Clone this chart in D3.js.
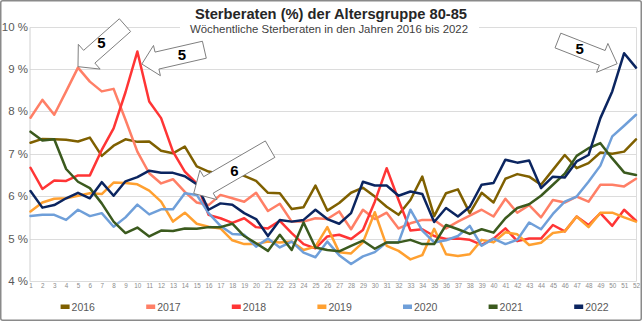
<!DOCTYPE html>
<html><head><meta charset="utf-8">
<script src="https://cdn.jsdelivr.net/npm/d3@7"></script>
<style>html,body{margin:0;padding:0;background:#fff}svg{display:block}</style>
</head><body>
<svg id="c" width="642" height="321"></svg>
<script>
const weeks = d3.range(1, 53);
const years = ["2016","2017","2018","2019","2020","2021","2022"];
const colors = ["#7f6000","#ff7f66","#ff3535","#ffa030","#6f9fd9","#3b5a1e","#0b2560"];
const yTicks = [4,5,6,7,8,9,10];

const y2016 = [7.26,7.35,7.34,7.33,7.29,7.38,6.95,7.19,7.34,7.28,7.29,7.07,7.01,7.17,6.70,6.58,6.52,6.54,6.48,6.36,6.08,6.07,5.70,5.74,6.25,5.66,5.84,6.08,6.20,5.99,5.75,5.56,5.91,6.46,5.53,6.07,6.16,5.60,6.08,5.85,6.41,6.52,6.46,6.27,6.62,6.97,6.66,6.78,7.03,7.00,7.05,7.34];
const y2017 = [7.85,8.27,7.92,8.47,9.03,8.70,8.47,8.53,7.80,7.05,6.54,6.30,6.40,6.10,5.85,5.79,6.03,5.95,5.87,6.08,5.65,5.82,5.40,5.40,5.48,5.46,5.64,5.22,5.68,5.46,5.61,5.24,5.36,5.44,5.44,5.24,5.40,5.54,5.68,5.52,5.94,5.61,5.79,5.50,5.91,5.85,5.99,5.87,6.27,6.27,6.23,6.41];
const y2018 = [6.67,6.17,6.37,6.36,6.49,6.49,7.09,7.60,8.45,9.41,8.23,7.84,7.05,6.58,6.30,5.56,5.48,5.37,5.48,5.27,5.24,5.42,5.13,4.87,4.77,5.05,5.09,4.99,5.20,5.87,6.66,5.91,5.19,5.22,5.06,4.99,5.00,4.97,4.85,5.00,5.24,4.94,5.00,5.00,5.32,5.17,5.52,5.32,5.60,5.30,5.68,5.42];
const y2019 = [5.64,5.85,5.94,5.95,6.01,6.07,6.05,6.32,6.31,6.28,6.13,5.87,5.40,5.61,5.35,5.28,5.24,4.96,4.87,4.87,4.93,4.91,4.93,4.73,4.81,5.27,4.68,4.65,4.91,5.62,4.83,4.71,4.51,4.61,5.23,4.63,4.59,4.63,4.97,4.91,5.15,5.10,4.85,4.90,5.13,5.17,5.52,5.27,5.61,5.61,5.50,5.40];
const y2020 = [5.53,5.56,5.56,5.44,5.68,5.53,5.60,5.28,5.50,5.80,5.57,5.69,5.69,6.07,6.03,5.60,5.30,5.11,5.09,4.81,5.00,4.79,4.93,4.67,4.56,4.93,4.61,4.40,4.58,4.68,4.91,4.91,5.68,5.19,4.91,4.96,5.06,5.30,4.83,5.00,4.87,4.97,5.38,5.22,5.58,5.87,5.99,6.34,6.72,7.41,7.66,7.92];
const y2021 = [7.52,7.31,7.34,6.64,6.34,6.19,5.83,5.40,5.13,5.26,5.05,5.19,5.18,5.24,5.23,5.27,5.27,5.35,5.06,4.89,4.71,5.09,4.73,5.38,4.79,4.73,4.70,4.83,4.95,4.76,4.91,4.91,4.97,4.87,4.87,5.32,5.22,5.11,5.22,5.14,5.48,5.72,5.81,6.01,6.27,6.53,6.95,7.13,7.25,6.89,6.56,6.50];
const y2022 = [6.12,5.73,5.79,5.95,6.08,5.95,6.33,6.01,6.35,6.45,6.60,6.55,6.55,6.47,6.28,5.68,5.83,5.80,5.60,5.46,5.06,5.44,5.40,5.44,5.68,5.46,5.35,5.60,6.34,6.25,6.25,6.01,6.11,6.05,5.39,5.72,5.52,5.75,6.27,6.31,6.86,6.79,6.84,6.19,6.46,6.44,6.82,6.97,7.84,8.47,9.37,9.03];
const seriesValues = [y2016,y2017,y2018,y2019,y2020,y2021,y2022];

// annotation arrows: anchored on a data point (series index, week)
const annLabels = ["5","5","6","5"];
const annSeries = [1,2,2,6];
const annWeeks = [5,10,15,51];

const title = "Sterberaten (%) der Altersgruppe 80-85";
const subtitle = "Wöchentliche Sterberaten in den Jahren 2016 bis 2022";

const FONT = "'Liberation Sans', Arial, sans-serif";
const svg = d3.select("#c");
const W = 642, H = 321;
const m = {l:30.5, r:636, t:26.5, b:281};

const x = d3.scaleLinear().domain([1,52]).range([m.l, m.r]);
const y = d3.scaleLinear().domain([4,10]).range([m.b, m.t]);

// frame
svg.append("rect").attr("x",0.75).attr("y",0.75).attr("width",W-1.5).attr("height",H-1.5)
  .attr("rx",2).attr("fill","#fff").attr("stroke","#8a8a8a").attr("stroke-width",1.5);

// gridlines
svg.append("g").selectAll("line").data(yTicks).join("line")
  .attr("x1",m.l-0.5).attr("x2",m.r+0.5).attr("y1",d=>Math.round(y(d))+0.5).attr("y2",d=>Math.round(y(d))+0.5)
  .attr("stroke","#dcdcdc").attr("stroke-width",1);
svg.append("line").attr("x1",m.l-0.5).attr("x2",m.l-0.5).attr("y1",Math.round(y(10))+0.5).attr("y2",Math.round(y(4))+0.5).attr("stroke","#d0d0d0");
svg.append("line").attr("x1",m.r+0.5).attr("x2",m.r+0.5).attr("y1",Math.round(y(10))+0.5).attr("y2",Math.round(y(4))+0.5).attr("stroke","#dcdcdc");

// y axis labels
svg.append("g").selectAll("text").data(yTicks).join("text")
  .attr("x",28).attr("y",d=>y(d)).attr("dy","0.35em").attr("text-anchor","end")
  .attr("font-family",FONT).attr("font-size",11.5).attr("fill","#595959")
  .text(d=>d+" %");

// x axis tick labels
const xAxis = d3.axisBottom(x).tickValues(weeks).tickSize(0).tickPadding(3).tickFormat(d3.format("d"));
const gx = svg.append("g").attr("transform",`translate(0,${m.b})`).call(xAxis);
gx.select(".domain").remove();
gx.selectAll("text").attr("font-family",FONT).attr("font-size",6.3).attr("fill","#8c8c8c");

// lines
const line = d3.line().x((d,i)=>x(weeks[i])).y(d=>y(d)).curve(d3.curveLinear);
svg.append("g").selectAll("path").data(seriesValues).join("path")
  .attr("d",d=>line(d)).attr("fill","none")
  .attr("stroke",(d,i)=>colors[i]).attr("stroke-width",2.5)
  .attr("stroke-linejoin","round").attr("stroke-linecap","round");

// titles
svg.append("rect").attr("x",180).attr("y",20).attr("width",299).attr("height",17).attr("fill","#fff");
svg.append("text").attr("x",331).attr("y",18.5).attr("text-anchor","middle")
  .attr("font-family",FONT).attr("font-size",14.7).attr("font-weight","bold").attr("fill","#262626").text(title);
svg.append("text").attr("x",329).attr("y",33).attr("text-anchor","middle")
  .attr("font-family",FONT).attr("font-size",11.4).attr("fill","#404040").text(subtitle);

// arrows
const annTip = [[0,-1],[4.5,12.5],[-3,10],[-7,10.5]];
const annTail = [[47,-41.5],[62.5,-14.3],[76.4,-44.3],[-59.2,-23.2]];
const annDims = [[8.5,16.5,15],[8.7,15.5,15.5],[9.5,17,17],[7.9,15.5,16]];
const annText = [[23.5,-24],[40,-9.3],[40.7,-23.3],[-37.4,-14.7]];
const ga = svg.append("g");
annLabels.forEach((lab,k)=>{
  const px = x(annWeeks[k]) + annTip[k][0];
  const py = y(seriesValues[annSeries[k]][annWeeks[k]-1]) + annTip[k][1];
  const cx = px + annTail[k][0], cy = py + annTail[k][1];
  const L = Math.hypot(cx-px, cy-py);
  const ux = (cx-px)/L, uy = (cy-py)/L;
  const nx = -uy, ny = ux;
  const [sw,hw,hl] = annDims[k];
  const hx = px + ux*hl, hy = py + uy*hl;
  const pts = [
    [px,py],
    [hx+nx*hw, hy+ny*hw],
    [hx+nx*sw, hy+ny*sw],
    [cx+nx*sw, cy+ny*sw],
    [cx-nx*sw, cy-ny*sw],
    [hx-nx*sw, hy-ny*sw],
    [hx-nx*hw, hy-ny*hw]
  ];
  ga.append("polygon").attr("points",pts.map(p=>p.join(",")).join(" "))
    .attr("fill","#fff").attr("stroke","#7f7f7f").attr("stroke-width",1).attr("stroke-linejoin","miter");
  ga.append("text").attr("x",px+annText[k][0]).attr("y",py+annText[k][1]).attr("dy","0.36em")
    .attr("text-anchor","middle").attr("font-family",FONT).attr("font-size",15).attr("font-weight","bold")
    .attr("fill","#000").text(lab);
});

// legend
const lg = svg.append("g").selectAll("g").data(years).join("g")
  .attr("transform",(d,i)=>`translate(${60.6 + i*85.6},307)`);
lg.append("rect").attr("x",0).attr("y",-2.5).attr("width",9).attr("height",4.5).attr("fill",(d,i)=>colors[i]);
lg.append("text").attr("x",11).attr("y",0).attr("dy","0.36em")
  .attr("font-family",FONT).attr("font-size",10.5).attr("fill","#595959").text(d=>d);
</script>
</body></html>
